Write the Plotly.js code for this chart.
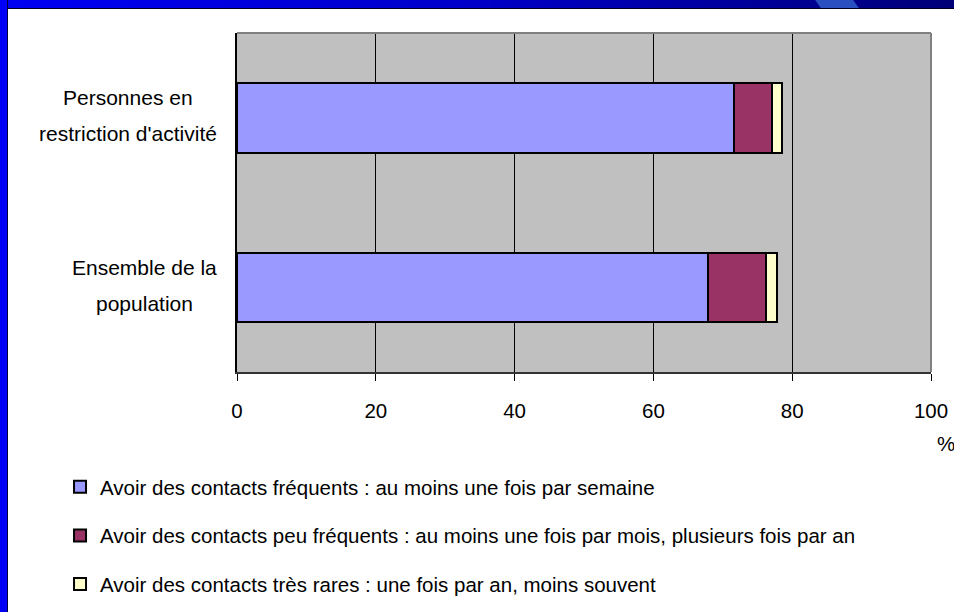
<!DOCTYPE html>
<html><head><meta charset="utf-8">
<script src="https://cdn.plot.ly/plotly-3.0.1.min.js"></script>
<style>
html,body{margin:0;padding:0;background:#fff;}
#wrap{position:relative;width:954px;height:612px;overflow:hidden;background:#fff;}
#topbar{position:absolute;left:0;top:0;width:954px;height:8px;background:linear-gradient(to right,#0000f4,#0000c8 50%,#000078);border-bottom:1px solid #000020;}
#streak{position:absolute;left:818px;top:0;width:38px;height:8px;background:#2a4fc0;transform:skewX(35deg);}
#leftbar{position:absolute;left:0;top:0;width:7px;height:612px;background:#0000f4;border-right:1px solid #000040;}
#chart{position:absolute;left:0;top:0;width:954px;height:612px;}
</style></head>
<body><div id="wrap"><div id="topbar"></div><div id="streak"></div><div id="leftbar"></div><div id="chart"></div></div>
<script>
const categories = ["Ensemble de la population", "Personnes en restriction d'activité"];
const categoryLabels = [["Ensemble de la", "population"], ["Personnes en", "restriction d'activité"]];
const seriesNames = [
  "Avoir des contacts fréquents : au moins une fois par semaine",
  "Avoir des contacts peu fréquents : au moins une fois par mois, plusieurs fois par an",
  "Avoir des contacts très rares : une fois par an, moins souvent"
];
const frequents = [67.8, 71.6];
const peuFrequents = [8.4, 5.5];
const tresRares = [1.6, 1.4];
const xTicks = [0, 20, 40, 60, 80, 100];
const colors = ["#9999FF", "#993366", "#FFFFCC"];

const FONT = "'Liberation Sans', Arial, sans-serif";
const SZ = 20.5, CAT_SZ = 21;
const series = [frequents, peuFrequents, tresRares];
const traces = series.map((vals, i) => ({
  type: 'bar', orientation: 'h', y: categories, x: vals, name: seriesNames[i],
  legendgroup: 'g' + i,
  marker: {color: colors[i], line: {color: '#000', width: 2}},
  hoverinfo: 'x+name'
}));

// measure text to centre the two lines of each category label inside a right-aligned block
const ctx = document.createElement('canvas').getContext('2d');
ctx.font = CAT_SZ + "px 'Liberation Sans', Arial, sans-serif";
const annotations = [];
categories.forEach((c, i) => {
  const lines = categoryLabels[i];
  const widths = lines.map(l => ctx.measureText(l).width);
  const maxW = Math.max(...widths);
  lines.forEach((l, k) => {
    annotations.push({
      xref: 'paper', yref: 'y', x: -0.026, y: c, xanchor: 'right', yanchor: 'middle',
      xshift: -(maxW - widths[k]) / 2, yshift: k === 0 ? 20 : -16,
      showarrow: false, text: l, font: {family: FONT, size: CAT_SZ, color: '#000'}
    });
  });
});
annotations.push({xref: 'paper', yref: 'paper', x: 1.0, y: -0.212, xanchor: 'left', yanchor: 'middle',
  xshift: 4, showarrow: false, text: '%', font: {family: FONT, size: SZ, color: '#000'}});

const layout = {
  width: 954, height: 612,
  margin: {l: 237, r: 23, t: 33, b: 240, autoexpand: false},
  paper_bgcolor: 'rgba(0,0,0,0)', plot_bgcolor: '#C0C0C0',
  barmode: 'stack', bargap: 0.59,
  font: {family: FONT, size: SZ, color: '#000'},
  xaxis: {range: [0, 100], tickvals: xTicks, ticktext: xTicks.map(String),
    showgrid: true, gridcolor: '#000', gridwidth: 1, zeroline: false,
    showline: true, linecolor: '#333', linewidth: 2,
    ticks: 'outside', ticklen: 7, tickcolor: '#000', tickwidth: 1, ticklabelstandoff: 12,
    tickfont: {family: FONT, size: SZ, color: '#000'}, fixedrange: true, automargin: false},
  yaxis: {categoryorder: 'array', categoryarray: categories, showticklabels: false,
    showgrid: false, zeroline: false, showline: true, linecolor: '#000', linewidth: 2,
    ticks: '', fixedrange: true, automargin: false},
  shapes: [
    {type: 'line', xref: 'paper', yref: 'paper', x0: 0, x1: 1, y0: 1, y1: 1, line: {color: '#808080', width: 2}, layer: 'above'},
    {type: 'line', xref: 'paper', yref: 'paper', x0: 1, x1: 1, y0: 0, y1: 1, line: {color: '#808080', width: 2}, layer: 'above'}
  ],
  annotations: annotations,
  showlegend: true,
  legend: {orientation: 'v', x: -0.255, xanchor: 'left', y: -0.28, yanchor: 'top',
    traceorder: 'grouped', tracegroupgap: 19, bgcolor: 'rgba(0,0,0,0)',
    font: {family: FONT, size: SZ, color: '#000'}}
};
Plotly.newPlot('chart', traces, layout, {displayModeBar: false, staticPlot: true});
</script></body></html>
